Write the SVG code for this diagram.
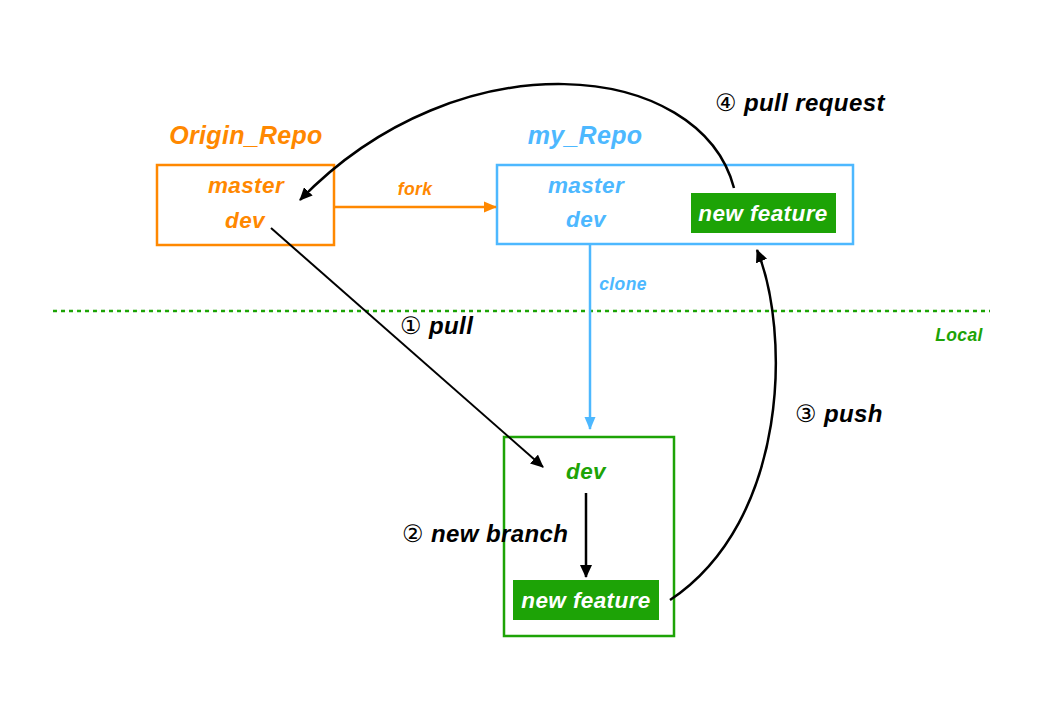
<svg xmlns="http://www.w3.org/2000/svg" width="1048" height="703" viewBox="0 0 1048 703">
<style>
text{font-family:"Liberation Sans","DejaVu Sans",Arial,sans-serif;font-weight:bold;font-style:italic;text-anchor:middle}
.o{fill:#FF8800}.b{fill:#4DB8FF}.g{fill:#1DA306}.w{fill:#FFFFFF}.k{fill:#000000}
.lbl{font-size:22.5px;letter-spacing:0.4px}.title{font-size:25px;letter-spacing:0.3px}.small{font-size:17.5px;letter-spacing:0.4px}.big{font-size:24px;letter-spacing:0.4px}
.num{font-weight:normal;font-style:normal}
</style>
<defs>
<marker id="ak" markerUnits="userSpaceOnUse" markerWidth="14" markerHeight="12" refX="12" refY="6" orient="auto"><path d="M0,0 L13,6 L0,12 z" fill="#000"/></marker>
<marker id="ao" markerUnits="userSpaceOnUse" markerWidth="14" markerHeight="12" refX="12" refY="6" orient="auto"><path d="M0,0.5 L13,6 L0,11.5 z" fill="#FF8800"/></marker>
<marker id="ab" markerUnits="userSpaceOnUse" markerWidth="14" markerHeight="12" refX="12" refY="6" orient="auto"><path d="M0,0.5 L13,6 L0,11.5 z" fill="#4DB8FF"/></marker>
</defs>
<rect width="1048" height="703" fill="#fff"/>
<line x1="53" y1="311" x2="990" y2="311" stroke="#1DA306" stroke-width="2.5" stroke-dasharray="4,4"/>
<text class="g small" x="959" y="341">Local</text>
<g id="origin">
<text class="o title" x="246" y="144">Origin_Repo</text>
<rect x="157" y="165" width="177" height="80" fill="none" stroke="#FF8800" stroke-width="2.5"/>
<text class="o lbl" x="246" y="193">master</text>
<text class="o lbl" x="245" y="228">dev</text>
</g>
<g id="myrepo">
<text class="b title" x="585" y="144">my_Repo</text>
<rect x="497" y="165" width="356" height="79" fill="none" stroke="#4DB8FF" stroke-width="2.5"/>
<text class="b lbl" x="586" y="193">master</text>
<text class="b lbl" x="586" y="227">dev</text>
<rect x="691" y="193" width="145" height="40" fill="#1DA306"/>
<text class="w lbl" x="763" y="221">new feature</text>
</g>
<g id="local">
<rect x="504" y="437" width="170" height="199" fill="none" stroke="#1DA306" stroke-width="2.5"/>
<text class="g lbl" x="586" y="479">dev</text>
<rect x="513" y="580" width="146" height="40" fill="#1DA306"/>
<text class="w lbl" x="586" y="608">new feature</text>
</g>
<g id="connectors" fill="none">
<line x1="334" y1="207" x2="496" y2="207" stroke="#FF8800" stroke-width="2.5" marker-end="url(#ao)"/>
<line x1="590" y1="245" x2="590" y2="429" stroke="#4DB8FF" stroke-width="2.5" marker-end="url(#ab)"/>
<line x1="271" y1="228" x2="543" y2="467" stroke="#000" stroke-width="2" marker-end="url(#ak)"/>
<line x1="586" y1="493" x2="586" y2="577" stroke="#000" stroke-width="2.5" marker-end="url(#ak)"/>
<path d="M670,600 C790,520 790,330 757,250" stroke="#000" stroke-width="2.5" marker-end="url(#ak)"/>
<path d="M734,188 C700,60 460,35 300,200" stroke="#000" stroke-width="2.5" marker-end="url(#ak)"/>
</g>
<g id="labels">
<text class="k big" x="400" y="334" style="text-anchor:start"><tspan class="num">①</tspan> pull</text>
<text class="k big" x="402" y="542" style="text-anchor:start"><tspan class="num">②</tspan> new branch</text>
<text class="k big" x="795" y="422" style="text-anchor:start"><tspan class="num">③</tspan> push</text>
<text class="k big" x="715" y="111" style="text-anchor:start"><tspan class="num">④</tspan> pull request</text>
<text class="o small" x="415" y="195">fork</text>
<text class="b small" x="623" y="290">clone</text>
</g>
</svg>
